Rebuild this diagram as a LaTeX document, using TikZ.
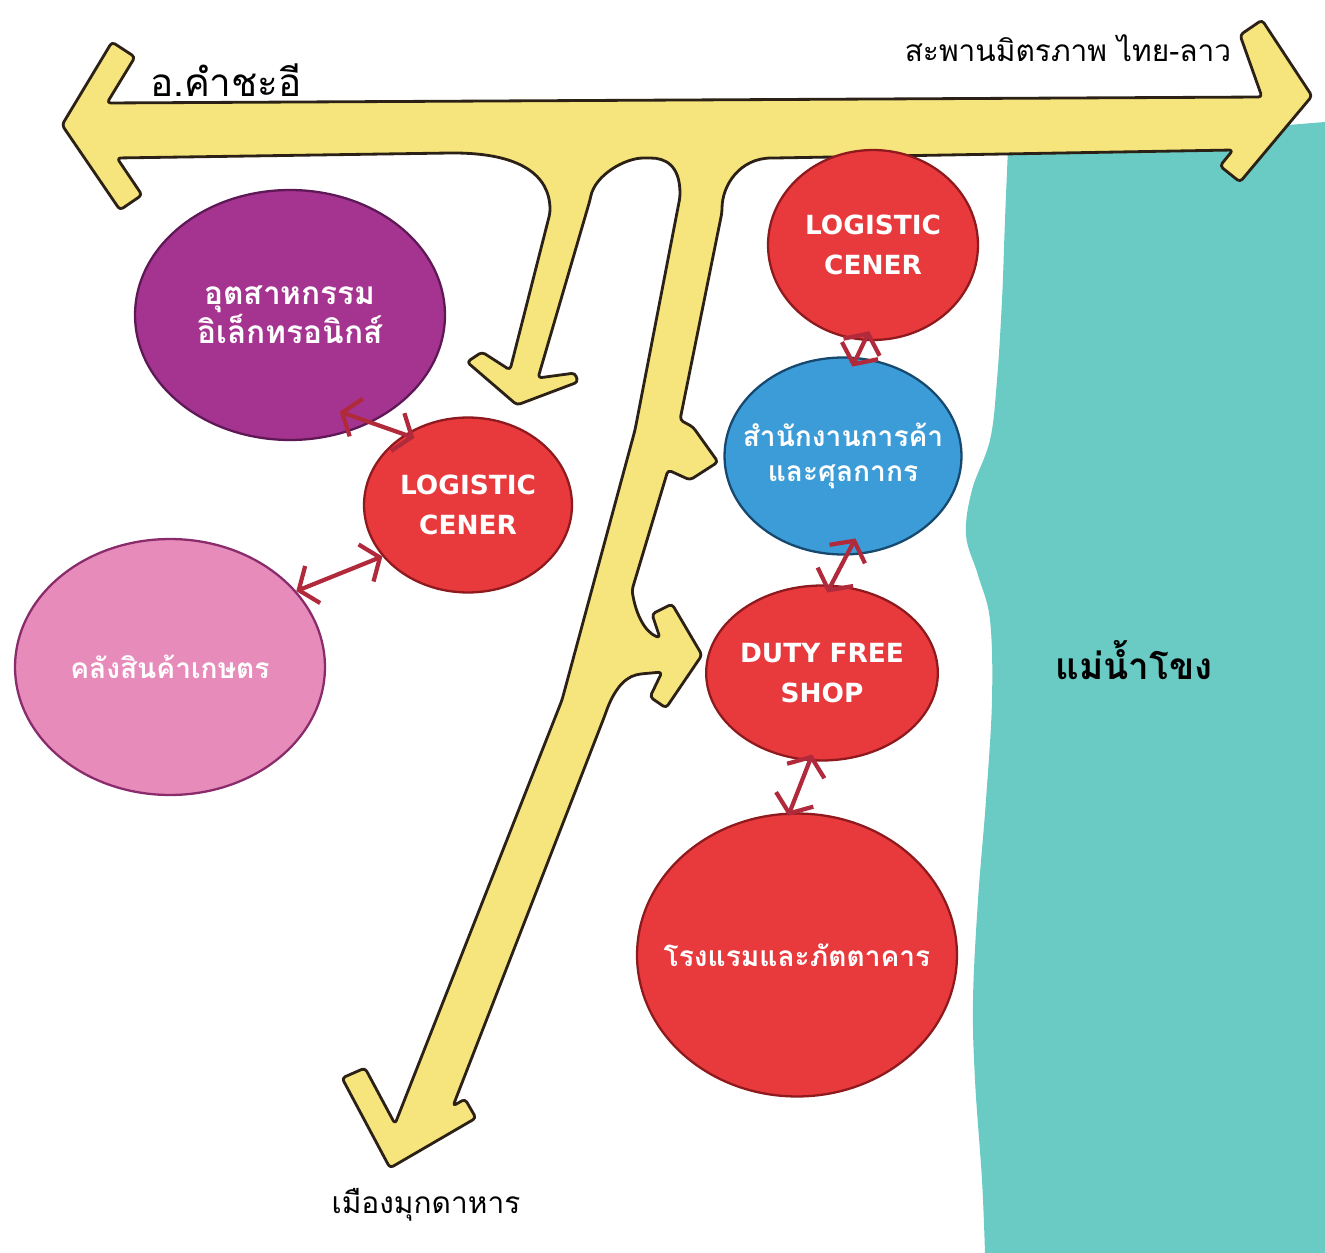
\documentclass[tikz,border=0pt]{standalone}
\usepackage{fontspec}
\newfontfamily\thaifont[Script=Thai]{Loma}
\newfontfamily\capsfont{DejaVu Sans}
\usetikzlibrary{arrows.meta,shapes.geometric}

\definecolor{roadyellow}{HTML}{F6E57C}
\definecolor{roadline}{HTML}{2B2116}
\definecolor{rivercol}{HTML}{6ACAC4}
\definecolor{redspot}{HTML}{E8393D}
\definecolor{redline}{HTML}{8E1A1E}
\definecolor{purpspot}{HTML}{A53490}
\definecolor{purpline}{HTML}{5E1856}
\definecolor{pinkspot}{HTML}{E78BBA}
\definecolor{pinkline}{HTML}{8A2C6C}
\definecolor{bluespot}{HTML}{3C9CD7}
\definecolor{blueline}{HTML}{17496F}
\definecolor{linkred}{HTML}{B02A3C}

\tikzset{
  spot/.style={ellipse, draw, line width=1.3pt, inner sep=0pt, text=white, align=center,
    font=\thaifont\bfseries\fontsize{16}{20}\selectfont},
  logi/.style={spot, fill=redspot, draw=redline, font=\capsfont\bfseries\fontsize{15}{23}\selectfont},
  link/.style={draw=linkred, line width=2.4pt, >={Straight Barb[width=8mm,length=3mm]}, <->},
  place/.style={font=\thaifont\fontsize{#1}{22}\selectfont},
  place/.default=18
}

\begin{document}
\begin{tikzpicture}[x=0.02cm,y=-0.02cm]
   \useasboundingbox[fill=white] (0,0) rectangle (1325,1253);

   % river
   \fill[rivercol] (1325,122) -- (1325,1253) -- plot[smooth, tension=0.6] coordinates {(985,1253) (982,1180)
     (975,1080) (973,1000) (978,900) (986,800) (992,700) (990,620) (978,575) (966,535) (972,490)
     (990,440) (997,380) (1002,300) (1005,220) (1008,148)} -- cycle;

   % roads
   \filldraw[fill=roadyellow, draw=roadline, line width=1.6pt, line join=round, rounded corners=2pt]
     (62,125) -- (112,42) -- (135,57) -- (107,103) -- (1262,97) -- (1240,35) -- (1262,20) -- (1312,96)
     -- (1240,182) -- (1220,166) -- (1233,150) -- (775,158) .. controls (740,158) and (722,185) .. (722,212)
     -- (680,420) -- (693,427) -- (718,462) -- (690,480) -- (668,470) -- (632,590)
     .. controls (636,615) and (645,632) .. (660,638) -- (652,614) -- (672,604) -- (702,655)
     -- (666,708) -- (650,697) -- (662,672) -- (640,674) .. controls (622,678) and (612,695) .. (605,715)
     -- (453,1106) -- (465,1099) -- (476,1118) -- (390,1168) -- (342,1078) -- (365,1068) -- (395,1124)
     -- (562,700) -- (635,430) -- (680,197)
     .. controls (680,165) and (665,158) .. (647,158) .. controls (625,158) and (595,175) .. (590,200)
     -- (538,378) -- (575,373) -- (578,382) -- (517,405) -- (467,362) -- (482,352) -- (510,370)
     -- (550,213) .. controls (550,175) and (520,153) .. (450,153) -- (117,158) -- (142,195) -- (120,210)
     -- cycle;

   % places
   \node[spot, fill=purpspot, draw=purpline, inner xsep=-8pt, minimum width=6.2cm, minimum height=5cm,
     font=\thaifont\bfseries\fontsize{18}{21}\selectfont] (purp) at (290,315)
     {อุตสาหกรรม\\อิเล็กทรอนิกส์};
   \node[logi, minimum width=4.16cm, minimum height=3.5cm] (logL) at (468,505) {LOGISTIC\\CENER};
   \node[spot, fill=pinkspot, draw=pinkline, minimum width=6.2cm, minimum height=5.12cm] (pink) at (170,667)
     {คลังสินค้าเกษตร};
   \node[logi, minimum width=4.2cm, minimum height=3.8cm] (logR) at (873,245) {LOGISTIC\\CENER};
   \node[spot, fill=bluespot, draw=blueline, inner xsep=-10pt, minimum width=4.74cm, minimum height=3.94cm]
     (blue) at (843,456) {สำนักงานการค้า\\และศุลกากร};
   \node[logi, minimum width=4.1cm, minimum height=3.5cm] (duty) at (822,673) {DUTY FREE\\SHOP};
   \node[spot, fill=redspot, draw=redline, inner xsep=-12pt, minimum width=6.4cm, minimum height=5.66cm]
     (hotel) at (797,955) {โรงแรมและภัตตาคาร};

   % links
   \draw[link, shorten <=-19pt, shorten >=-6pt] (purp.-53) -- (logL.132);
   \draw[link] (pink.31) -- (logL.211);
   \draw[link, shorten <=-6pt, shorten >=-6pt] (logR.265) -- (blue.82);
   \draw[link, shorten <=-11pt, shorten >=-5pt] (blue.272) -- (duty.84);
   \draw[link, shorten <=-4pt, shorten >=-2pt] (duty.262) -- (hotel.93);

   % labels
   \node[place=22] (kham) at (226,80) {อ.คำชะอี};
   \node[place=17] (bridge) at (1068,48) {สะพานมิตรภาพ ไทย-ลาว};
   \node[place=17] (mukdahan) at (426,1205) {เมืองมุกดาหาร};
   \node[font=\thaifont\bfseries\fontsize{21}{24}\selectfont] (mekong) at (1134,660) {แม่น้ำโขง};

\end{tikzpicture}
\end{document}
